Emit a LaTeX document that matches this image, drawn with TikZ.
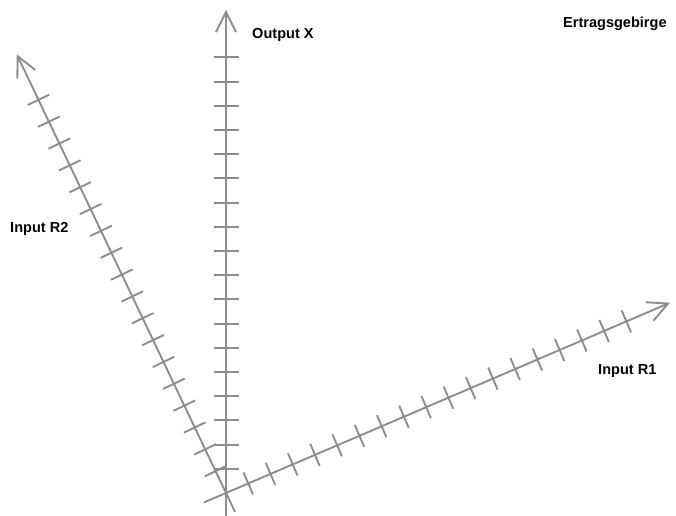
\documentclass[tikz,border=0pt]{standalone}
\usepackage{fontspec}
\setmainfont{Liberation Sans}
\usepackage{tikz}
\usetikzlibrary{arrows.meta,positioning,calc}
\definecolor{axisgray}{RGB}{140,140,140}
\tikzset{
  axis/.style={draw=axisgray,line width=1.6pt,-{Straight Barb[length=0.6cm,width=0.6cm]}},
  axtick/.style={draw=axisgray,line width=1.6pt},
  lbl/.style={font=\bfseries\fontsize{12.4}{14}\selectfont,inner sep=0pt,anchor=base west}
}

\begin{document}
\begin{tikzpicture}[x=0.03cm,y=0.03cm]
\useasboundingbox (0,0) rectangle (676,516);
\coordinate (o) at (226,23);
\coordinate (xtip) at ($(o)+(90:483)$);
\coordinate (r1tip) at ($(o)+(23.2:483)$);
\coordinate (r2tip) at ($(o)+(115.5:486)$);
\coordinate (xtail) at ($(o)+(270:23)$);
\coordinate (r1tail) at ($(o)+(203.2:24)$);
\coordinate (r2tail) at ($(o)+(295.5:21)$);
% axes
\draw[axis] (xtail)--(xtip);
\draw[axis] (r1tail)--(r1tip);
\draw[axis] (r2tail)--(r2tip);
% ticks
\foreach \k in {1,...,18}{
  \draw[axtick] ($(o)+(90:\k*24.2)+(0:12.5)$)--($(o)+(90:\k*24.2)+(180:12.5)$);
  \draw[axtick] ($(o)+(23.2:\k*24.2)+(113.2:12)$)--($(o)+(23.2:\k*24.2)+(293.2:12)$);
  \draw[axtick] ($(o)+(115.5:\k*24.2)+(25.5:12)$)--($(o)+(115.5:\k*24.2)+(205.5:12)$);
}
% labels
\node[lbl] (outx) at (252,477) {Output X};
\node[lbl] (inr1) at (598,141) {Input R1};
\node[lbl] (inr2) at (10,283) {Input R2};
\node[lbl] (title) at (563,488) {Ertragsgebirge};
\end{tikzpicture}
\end{document}
